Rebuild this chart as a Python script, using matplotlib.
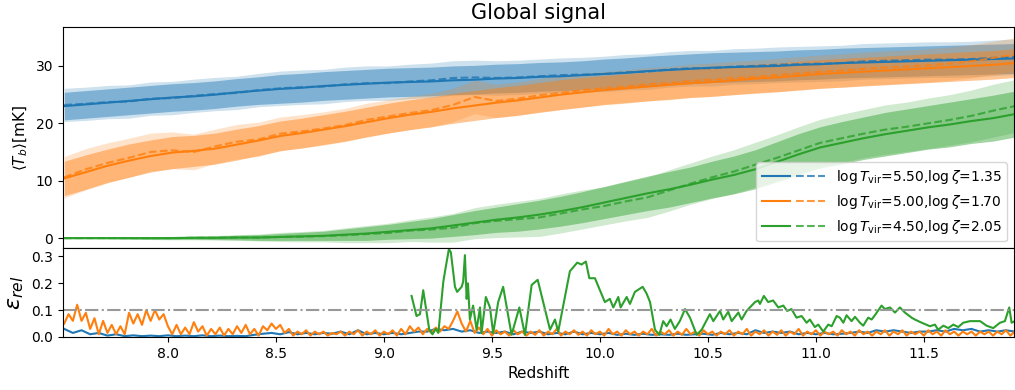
import numpy as np
import matplotlib
matplotlib.use('Agg')
import matplotlib.pyplot as plt
from matplotlib.legend_handler import HandlerTuple

# ==============================================================================
# Datos (valores medios de la senal global, en mK)
# ==============================================================================
z_top = np.round(np.arange(7.52, 11.93, 0.1), 2)

blue_true = [23.0, 23.3, 23.6, 23.9, 24.2, 24.5, 24.7, 25.0, 25.4, 25.7,
             26.0, 26.2, 26.5, 26.7, 26.9, 27.1, 27.2, 27.3, 27.5, 27.6,
             27.8, 27.9, 28.1, 28.2, 28.4, 28.6, 28.8, 29.1, 29.3, 29.5,
             29.7, 29.8, 29.9, 30.0, 30.2, 30.3, 30.5, 30.6, 30.7, 30.8,
             30.9, 31.0, 31.1, 31.2, 31.3]
blue_pred = [23.2, 23.4, 23.7, 23.8, 24.3, 24.4, 24.8, 25.1, 25.3, 25.8,
             26.1, 26.3, 26.4, 26.8, 27.0, 27.0, 27.3, 27.5, 27.9, 28.0,
             27.9, 28.0, 28.2, 28.4, 28.5, 28.6, 28.9, 29.0, 29.4, 29.6,
             29.6, 29.9, 30.0, 30.2, 30.3, 30.4, 30.5, 30.8, 30.9, 31.0,
             31.1, 31.1, 31.2, 31.4, 31.6]
orange_true = [10.4, 11.5, 12.6, 13.5, 14.3, 14.9, 15.2, 15.6, 16.3, 17.0,
               17.8, 18.3, 18.9, 19.5, 20.2, 20.9, 21.5, 22.0, 22.6, 23.1,
               23.6, 24.0, 24.5, 25.0, 25.4, 25.8, 26.1, 26.4, 26.7, 27.0,
               27.2, 27.5, 27.8, 28.0, 28.3, 28.6, 28.8, 29.0, 29.2, 29.4,
               29.6, 29.8, 30.0, 30.2, 30.5]
orange_pred = [10.6, 12.0, 13.1, 14.0, 15.0, 15.3, 15.0, 16.0, 16.8, 17.2,
               18.2, 18.6, 19.1, 19.7, 20.6, 21.2, 21.8, 22.3, 23.2, 24.6,
               23.9, 24.3, 24.9, 25.3, 25.8, 26.1, 26.4, 26.8, 27.0, 27.4,
               27.6, 27.9, 28.1, 28.4, 28.7, 29.0, 29.2, 29.5, 29.7, 29.9,
               30.1, 30.4, 30.8, 31.4, 32.0]
green_true = [0.0, 0.0, 0.0, 0.0, 0.0, 0.0, 0.05, 0.05, 0.1, 0.1,
              0.2, 0.3, 0.4, 0.6, 0.8, 1.1, 1.4, 1.7, 2.2, 2.7,
              3.2, 3.6, 4.1, 4.7, 5.4, 6.2, 7.0, 7.8, 8.5, 9.3,
              10.2, 11.0, 12.0, 13.3, 14.6, 15.8, 16.6, 17.4, 18.1, 18.7,
              19.3, 19.8, 20.4, 20.9, 21.6]
green_pred = [0.0, 0.0, 0.0, 0.0, 0.0, 0.0, 0.05, 0.05, 0.1, 0.1,
              0.2, 0.25, 0.35, 0.5, 0.7, 0.9, 1.3, 1.5, 1.8, 2.6,
              3.0, 3.3, 3.6, 4.3, 5.0, 5.6, 6.4, 7.1, 8.3, 9.5,
              10.6, 11.6, 12.8, 14.0, 15.3, 16.6, 17.4, 18.2, 18.9, 19.4,
              20.0, 20.6, 21.3, 22.2, 23.0]

# semi-anchos de las bandas (truth y prediccion)
blue_sd_true = [2.4] * 10 + [2.5] * 15 + [2.6] * 20
blue_sd_pred = [2.9] * 10 + [3.0] * 15 + [3.1] * 20
orange_sd_true = [3.0, 3.0, 2.9, 2.9, 2.8, 2.8, 2.7, 2.7, 2.7, 2.6] + [2.6] * 15 + [2.5] * 20
orange_sd_pred = [3.6, 3.6, 3.5, 3.4, 3.3, 3.2, 3.1, 3.0, 3.0, 3.0] + [2.9] * 15 + [2.9] * 20
green_sd_true = [0.1, 0.1, 0.1, 0.15, 0.2, 0.2, 0.25, 0.3, 0.4, 0.5,
                 0.6, 0.7, 0.8, 1.0, 1.2, 1.3, 1.5, 1.7, 1.9, 2.1,
                 2.2, 2.4, 2.5, 2.6, 2.7, 2.8, 2.9, 3.0, 3.1, 3.1,
                 3.2, 3.3, 3.4, 3.5, 3.6, 3.6, 3.7, 3.7, 3.8, 3.8,
                 3.8, 3.9, 3.9, 4.0, 4.0]
green_sd_pred = [0.1, 0.1, 0.15, 0.2, 0.25, 0.3, 0.35, 0.4, 0.5, 0.6,
                 0.8, 0.9, 1.0, 1.3, 1.5, 1.7, 1.9, 2.2, 2.5, 2.7,
                 2.9, 3.1, 3.3, 3.4, 3.4, 3.3, 3.4, 3.5, 3.6, 3.6,
                 3.7, 3.8, 3.9, 4.0, 4.1, 4.1, 4.2, 4.2, 4.3, 4.3,
                 4.4, 4.4, 4.5, 4.6, 4.6]

# ==============================================================================
# Errores relativos
# ==============================================================================
z_orange_err = np.round(np.arange(7.52, 11.93, 0.02), 2)
orange_err = [0.05, 0.085, 0.06, 0.12, 0.06, 0.09, 0.03, 0.07, 0.01, 0.06,
              0.015, 0.045, 0.01, 0.04, 0.01, 0.09, 0.05, 0.085, 0.045, 0.10,
              0.06, 0.10, 0.065, 0.085, 0.04, 0.01, 0.045, 0.01, 0.035, 0.01,
              0.055, 0.02, 0.04, 0.005, 0.03, 0.01, 0.035, 0.005, 0.03, 0.01,
              0.04, 0.015, 0.045, 0.01, 0.03, 0.005, 0.04, 0.025, 0.05, 0.03,
              0.045, 0.015, 0.03, 0.005, 0.02, 0.01, 0.025, 0.005, 0.02, 0.01,
              0.02, 0.005, 0.015, 0.01, 0.02, 0.005, 0.02, 0.01, 0.025, 0.005,
              0.02, 0.01, 0.025, 0.005, 0.02, 0.01, 0.025, 0.005, 0.03, 0.01,
              0.04, 0.02, 0.035, 0.01, 0.03, 0.015, 0.035, 0.02, 0.04, 0.03,
              0.06, 0.095, 0.05, 0.02, 0.06, 0.015, 0.035, 0.01, 0.03, 0.005,
              0.025, 0.01, 0.02, 0.005, 0.025, 0.01, 0.02, 0.005, 0.02, 0.008,
              0.025, 0.005, 0.02, 0.01, 0.03, 0.005, 0.02, 0.01, 0.025, 0.008,
              0.02, 0.005, 0.025, 0.01, 0.02, 0.005, 0.03, 0.01, 0.02, 0.005,
              0.025, 0.01, 0.02, 0.005, 0.02, 0.01, 0.03, 0.005, 0.02, 0.01,
              0.025, 0.005, 0.02, 0.008, 0.03, 0.01, 0.02, 0.005, 0.025, 0.01,
              0.02, 0.005, 0.02, 0.01, 0.025, 0.005, 0.02, 0.01, 0.03, 0.005,
              0.02, 0.01, 0.025, 0.005, 0.02, 0.008, 0.025, 0.005, 0.02, 0.01,
              0.03, 0.005, 0.02, 0.01, 0.025, 0.005, 0.02, 0.01, 0.02, 0.005,
              0.025, 0.01, 0.02, 0.005, 0.025, 0.01, 0.02, 0.005, 0.02, 0.01,
              0.025, 0.005, 0.02, 0.01, 0.025, 0.005, 0.02, 0.01, 0.02, 0.005,
              0.025, 0.01, 0.02, 0.005, 0.025, 0.01, 0.02, 0.005, 0.02, 0.01,
              0.02, 0.005, 0.02, 0.01, 0.02, 0.005, 0.02, 0.01, 0.025, 0.005,
              0.02]

z_blue_err = np.round(np.arange(7.52, 11.93, 0.04), 2)
blue_err = [0.03, 0.015, 0.025, 0.01, 0.015, 0.005, 0.01, 0.003, 0.006, 0.003,
            0.005, 0.003, 0.006, 0.003, 0.005, 0.003, 0.006, 0.003, 0.005, 0.003,
            0.004, 0.003, 0.008, 0.012, 0.015, 0.01, 0.018, 0.01, 0.015, 0.01,
            0.015, 0.012, 0.02, 0.01, 0.025, 0.01, 0.015, 0.01, 0.015, 0.01,
            0.015, 0.02, 0.02, 0.03, 0.025, 0.03, 0.02, 0.025, 0.015, 0.02,
            0.015, 0.02, 0.01, 0.02, 0.015, 0.02, 0.01, 0.015, 0.01, 0.02,
            0.01, 0.015, 0.01, 0.015, 0.008, 0.012, 0.008, 0.012, 0.008, 0.01,
            0.008, 0.012, 0.008, 0.01, 0.012, 0.008, 0.015, 0.01, 0.015, 0.01,
            0.025, 0.015, 0.02, 0.015, 0.02, 0.01, 0.015, 0.01, 0.015, 0.01,
            0.012, 0.015, 0.02, 0.015, 0.025, 0.02, 0.025, 0.02, 0.015, 0.02,
            0.02, 0.025, 0.02, 0.03, 0.025, 0.03, 0.02, 0.025, 0.02, 0.025,
            0.02]

z_green_err = [9.128, 9.151, 9.167, 9.182, 9.21, 9.225, 9.24, 9.252, 9.275, 9.287,
               9.301, 9.31, 9.329, 9.339, 9.36, 9.367, 9.375, 9.383, 9.389, 9.398,
               9.413, 9.429, 9.445, 9.452, 9.472, 9.491, 9.506, 9.529, 9.552, 9.591,
               9.627, 9.653, 9.684, 9.712, 9.769, 9.792, 9.807, 9.861, 9.895, 9.915,
               9.935, 9.951, 9.977, 10.023, 10.046, 10.062, 10.085, 10.096, 10.124, 10.139,
               10.162, 10.198, 10.216, 10.232, 10.255, 10.275, 10.293, 10.309, 10.327, 10.347,
               10.37, 10.394, 10.417, 10.448, 10.471, 10.509, 10.525, 10.556, 10.571, 10.594,
               10.61, 10.641, 10.656, 10.679, 10.718, 10.733, 10.741, 10.759, 10.779, 10.802,
               10.826, 10.849, 10.867, 10.887, 10.91, 10.934, 10.957, 10.972, 10.995, 11.011,
               11.034, 11.057, 11.073, 11.096, 11.111, 11.127, 11.142, 11.165, 11.181, 11.204,
               11.219, 11.242, 11.258, 11.273, 11.304, 11.319, 11.343, 11.366, 11.389, 11.412,
               11.443, 11.458, 11.49, 11.528, 11.551, 11.566, 11.59, 11.613, 11.636, 11.659,
               11.682, 11.713, 11.76, 11.79, 11.821, 11.852, 11.875, 11.895, 11.906, 11.921]
green_err = [0.153, 0.078, 0.085, 0.174, 0.027, 0.01, 0.03, 0.015, 0.206, 0.264,
             0.328, 0.315, 0.187, 0.168, 0.187, 0.206, 0.305, 0.142, 0.2, 0.065,
             0.117, 0.027, 0.11, 0.014, 0.149, 0.11, 0.014, 0.13, 0.187, 0.008,
             0.11, 0.008, 0.194, 0.213, 0.027, 0.065, 0.02, 0.245, 0.277, 0.27,
             0.281, 0.219, 0.219, 0.13, 0.142, 0.11, 0.149, 0.11, 0.149, 0.123,
             0.168, 0.187, 0.162, 0.13, 0.027, 0.008, 0.059, 0.04, 0.065, 0.03,
             0.059, 0.104, 0.072, 0.008, 0.027, 0.085, 0.059, 0.097, 0.065, 0.094,
             0.059, 0.091, 0.065, 0.097, 0.13, 0.136, 0.123, 0.153, 0.13, 0.136,
             0.11, 0.117, 0.097, 0.104, 0.072, 0.078, 0.053, 0.065, 0.037, 0.046,
             0.02, 0.046, 0.04, 0.078, 0.072, 0.053, 0.081, 0.059, 0.075, 0.053,
             0.042, 0.072, 0.065, 0.081, 0.117, 0.104, 0.11, 0.091, 0.11, 0.091,
             0.072, 0.065, 0.053, 0.04, 0.046, 0.027, 0.042, 0.033, 0.046, 0.037,
             0.053, 0.059, 0.059, 0.042, 0.033, 0.053, 0.059, 0.11, 0.053, 0.059]

labels = [r'$\log T_{\rm vir}$=5.50,$\log \zeta$=1.35',
          r'$\log T_{\rm vir}$=5.00,$\log \zeta$=1.70',
          r'$\log T_{\rm vir}$=4.50,$\log \zeta$=2.05']
colores = ['#1f77b4', '#ff7f0e', '#2ca02c']

# ==============================================================================
# Graficas
# ==============================================================================
fig = plt.figure(figsize=(10.15, 3.9), dpi=100)
ax1 = fig.add_axes([0.062, 0.363, 0.937, 0.568])
ax2 = fig.add_axes([0.062, 0.136, 0.937, 0.227], sharex=ax1)

series = [(blue_true, blue_pred, blue_sd_true, blue_sd_pred),
          (orange_true, orange_pred, orange_sd_true, orange_sd_pred),
          (green_true, green_pred, green_sd_true, green_sd_pred)]

handles = []
for (t, p, st, sp), c in zip(series, colores):
    t = np.array(t); p = np.array(p); st = np.array(st); sp = np.array(sp)
    ax1.fill_between(z_top, p - sp, p + sp, color=c, alpha=0.22, lw=0)
    ax1.fill_between(z_top, t - st, t + st, color=c, alpha=0.45, lw=0)
    l1, = ax1.plot(z_top, t, color=c, lw=1.5)
    l2, = ax1.plot(z_top, p, color=c, lw=1.5, ls='--', alpha=0.8)
    handles.append((l1, l2))

ax1.set_ylim(-1.8, 36.8)
ax1.set_yticks([0, 10, 20, 30])
ax1.set_ylabel(r'$\langle T_b \rangle$[mK]', fontsize=11)
ax1.set_title('Global signal', fontsize=15)
ax1.tick_params(labelbottom=False)
ax1.legend(handles, labels, loc='lower right', fontsize=10, handlelength=4.5,
           handler_map={tuple: HandlerTuple(ndivide=None, pad=0.4)})

ax2.plot(z_blue_err, blue_err, color=colores[0], lw=1.5)
ax2.plot(z_orange_err, orange_err, color=colores[1], lw=1.5)
ax2.plot(z_green_err, green_err, color=colores[2], lw=1.5)
ax2.axhline(0.1, color='#999999', ls='-.', lw=1.5)
ax2.set_ylim(0, 0.33)
ax2.set_yticks([0.0, 0.1, 0.2, 0.3])
ax2.set_xlim(7.514, 11.917)
ax2.set_xlabel('Redshift', fontsize=11)
ax2.set_ylabel(r'$\epsilon_{rel}$', fontsize=16)

plt.savefig('out.png', dpi=100)
